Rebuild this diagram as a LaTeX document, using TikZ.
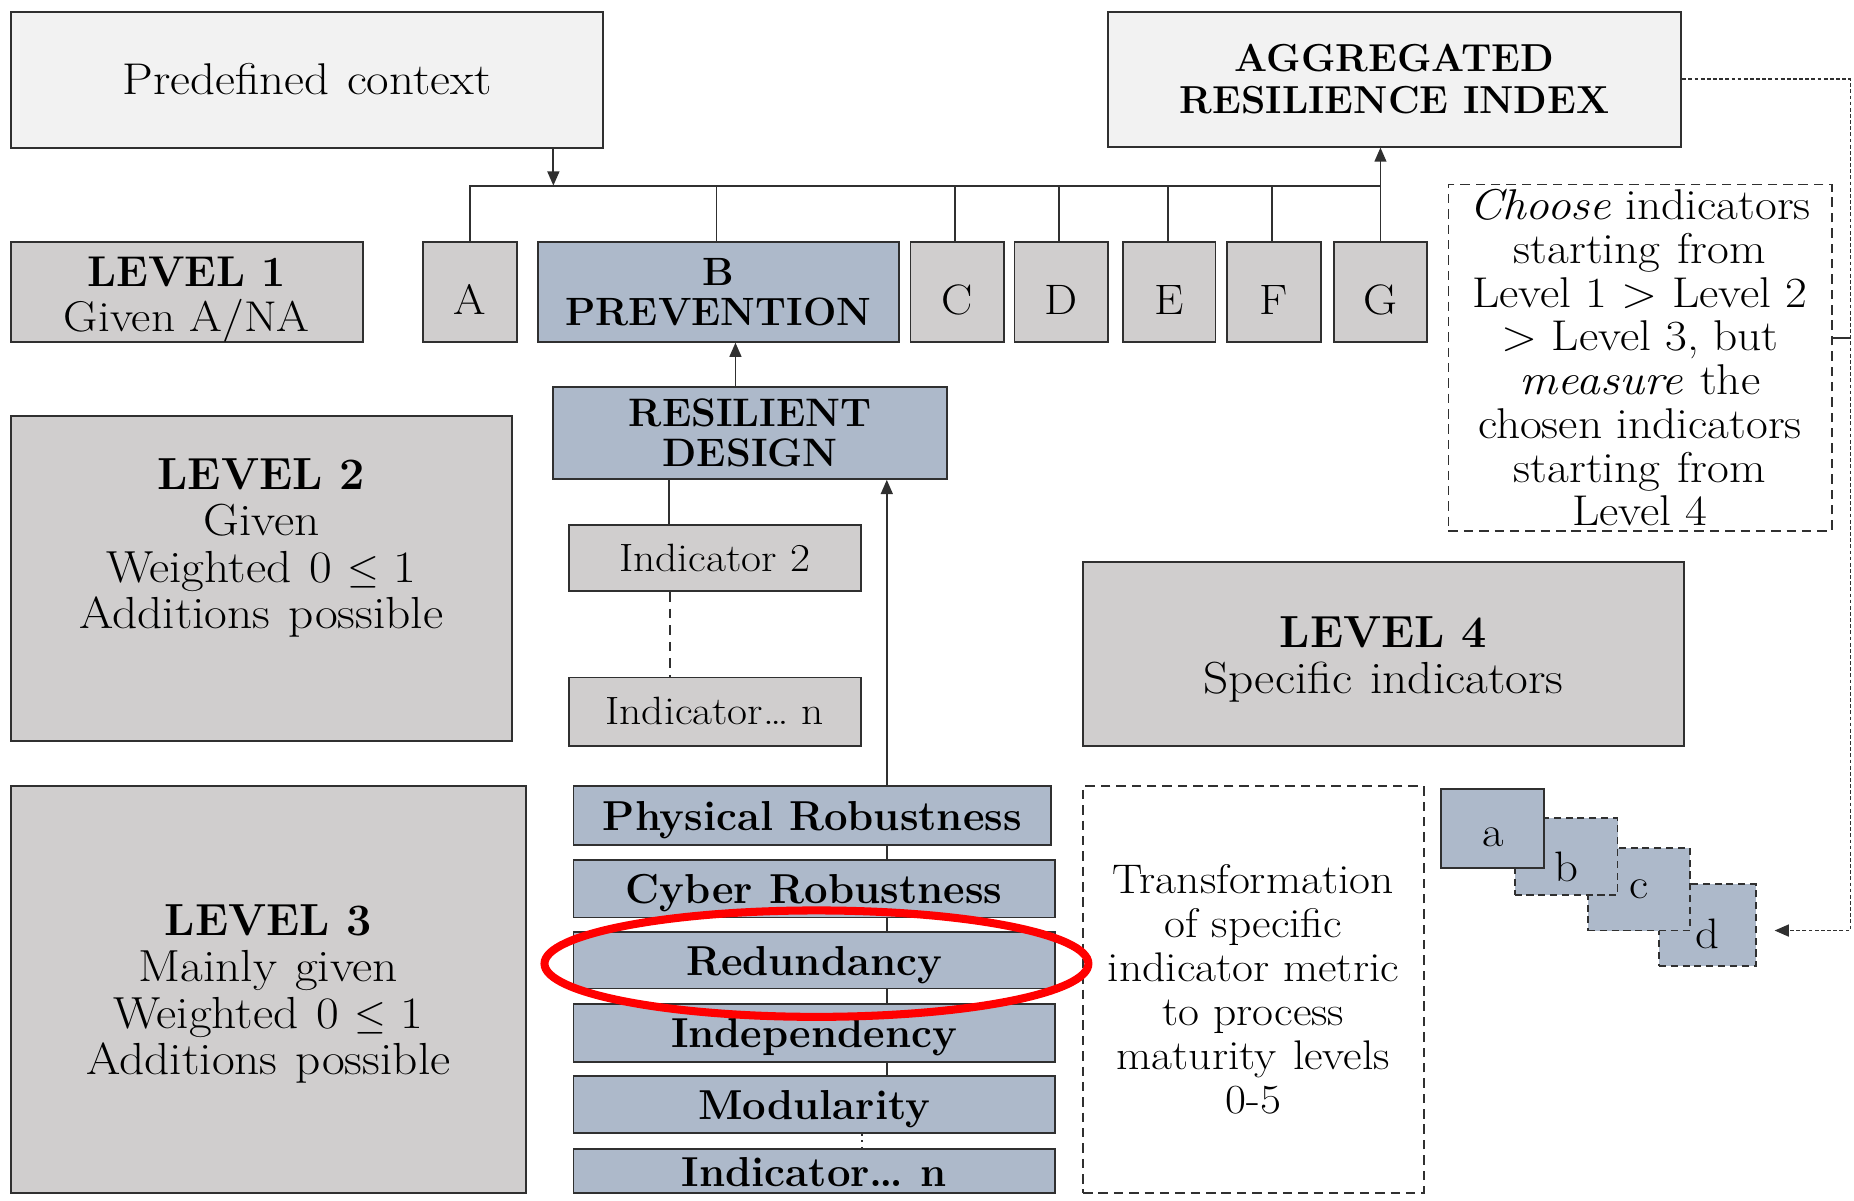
\documentclass[tikz,border=0pt]{standalone}
\usepackage{fontspec}
\setmainfont{Latin Modern Roman}[UprightFeatures={FakeStretch=1.1},ItalicFeatures={FakeStretch=1.1},BoldFeatures={FakeStretch=1.0}]
\usetikzlibrary{arrows.meta}
\definecolor{grayf}{HTML}{D0CECE}
\definecolor{bluef}{HTML}{ADB9CA}
\definecolor{lightf}{HTML}{F2F2F2}
\definecolor{edge}{HTML}{303030}
\newcommand\dsp{\hspace{0.4em}}
\newcommand\myfs[2]{\fontsize{#1}{#2}\selectfont}
\begin{document}
\begin{tikzpicture}[x=0.5pt,y=-0.5pt,
  box/.style={draw=edge,line width=0.8pt,inner sep=0pt,align=center},
  graybox/.style={box,fill=grayf},
  bluebox/.style={box,fill=bluef},
  lightbox/.style={box,fill=lightf},
  dbox/.style={box,dashed,dash pattern=on 4pt off 2.5pt},
  sqbox/.style={bluebox,dashed,dash pattern=on 3pt off 2pt},
  mlab/.style={align=center,inner sep=0pt},
  l3/.style={bluebox,minimum width=203.5pt,text height=12.75pt,text depth=0pt,font=\myfs{17.7}{20}\bfseries},
  conn/.style={draw=edge,line width=0.8pt},
  arr/.style={conn,-{Triangle[length=6pt,width=5pt]}},
  dotl/.style={conn,dash pattern=on 1.6pt off 1pt},
]
\useasboundingbox (0,0) rectangle (1568,1015);

% top row
\node[lightbox,minimum width=250.5pt,minimum height=57.5pt,text height=12.5pt,text depth=0pt,font=\myfs{18.8}{19}] (pre) at (259.5,67.5) {Predefined\dsp context};
\node[lightbox,minimum width=242.5pt,minimum height=57pt,font=\myfs{16.5}{17.5}\bfseries] (agg) at (1179.5,67) {AGGREGATED\\RESILIENCE INDEX};

% level 1 row
\node[graybox,minimum width=149pt,minimum height=42pt,
  label={[mlab,yshift=-3pt,font=\myfs{18.2}{19}]center:{\textbf{LEVEL 1}\\Given A/NA}}] (lv1) at (158,247) {};
\foreach \n/\x/\w in {A/397.5/39.5,C/809.5/39.5,D/897.5/39.5,E/989/39,F/1077.5/39.5,G/1167.5/39.5}{
  \node[graybox,minimum width=\w pt,minimum height=42pt,text height=19.3pt,text depth=0pt,font=\myfs{18}{19}] (\n) at (\x,247) {\n};
}
\node[bluebox,minimum width=152.5pt,minimum height=42pt,font=\myfs{16.7}{16.8}\bfseries] (B) at (607.5,247) {B\\PREVENTION};

% level 2
\node[graybox,minimum width=212pt,minimum height=137.5pt,
  label={[mlab,yshift=13pt,font=\myfs{19}{19.7}]center:{\textbf{LEVEL 2}\\Given\\Weighted\dsp 0 $\le$ 1\\Additions\dsp possible}}] (lv2) at (221,489.5) {};
\node[bluebox,minimum width=166.5pt,minimum height=39pt,font=\myfs{16.8}{17}\bfseries] (rd) at (634.5,366) {RESILIENT\\DESIGN};
\node[graybox,minimum width=123.5pt,minimum height=28pt,text height=11pt,text depth=0pt,font=\myfs{16.7}{18}] (ind2) at (604.5,472) {Indicator 2};
\node[graybox,minimum width=123.5pt,minimum height=29pt,text height=11pt,text depth=0pt,font=\myfs{16.7}{18}] (indn) at (604.5,602) {Indicator… n};

% level 3
\node[graybox,minimum width=218pt,minimum height=172pt,
  label={[mlab,yshift=-1.75pt,font=\myfs{19}{19.6}]center:{\textbf{LEVEL 3}\\Mainly\dsp given\\Weighted\dsp 0 $\le$ 1\\Additions\dsp possible}}] (lv3) at (227,837) {};
\node[l3,minimum width=202pt,minimum height=25pt] (phys) at (687,690) {Physical Robustness};
\node[l3,minimum height=24.5pt] (cyber) at (688.5,751.5) {Cyber\dsp Robustness};
\node[l3,minimum height=24pt] (red) at (688.5,812) {Redundancy};
\node[l3,minimum height=24.5pt] (indep) at (688.5,873.5) {Independency};
\node[l3,minimum height=24pt] (mod) at (688.5,934) {Modularity};
\node[l3,minimum height=18.5pt] (indn3) at (688.5,990.5) {Indicator…\dsp n};

% level 4 and side boxes
\node[graybox,minimum width=254pt,minimum height=78pt,
  label={[mlab,yshift=-2.5pt,font=\myfs{19}{19.3}]center:{\textbf{LEVEL 4}\\Specific\dsp indicators}}] (lv4) at (1170,553) {};
\node[dbox,minimum width=162pt,minimum height=146.5pt,font=\myfs{18.2}{18.5}] (choose) at (1387,302.5) {\textit{Choose} indicators\\starting\dsp from\\Level 1 > Level 2\\> Level 3, but\\\textit{measure}\dsp the\\chosen indicators\\starting\dsp from\\Level 4};
\node[dbox,minimum width=144pt,minimum height=172pt,font=\myfs{17.5}{18.6}] (trans) at (1060,837) {Transformation\\of specific\\indicator metric\\to process\\maturity\dsp levels\\0-5};

% a b c d squares
\node[sqbox,minimum width=41pt,minimum height=34.5pt,font=\myfs{18}{19}] (d) at (1444,782.5) {\raisebox{-10pt}[0pt][0pt]{d}};
\node[sqbox,minimum width=43pt,minimum height=35pt,font=\myfs{18}{19}] (c) at (1386,752) {\raisebox{-3.9pt}[0pt][0pt]{c}};
\node[sqbox,minimum width=43.5pt,minimum height=32.5pt,font=\myfs{18}{19}] (b) at (1324.5,724.5) {\raisebox{-10.5pt}[0pt][0pt]{b}};
\node[bluebox,minimum width=43.5pt,minimum height=33.5pt,font=\myfs{18}{19}] (a) at (1262.5,700.5) {\raisebox{-7.6pt}[0pt][0pt]{a}};

% connectors: top bus
\coordinate (bus) at (0,157);
\coordinate (preOut) at (468,125);
\draw[conn] (A.north) |- (G.north |- bus);
\foreach \n in {B,C,D,E,F} {\draw[conn] ([xshift=-0.75pt]\n.north) -- ([xshift=-0.75pt]\n.north |- bus);}
\draw[arr] (preOut) -- (preOut |- bus);
\draw[arr] (G.north) -- (G.north |- agg.south);

% resilient design
\draw[arr] ([xshift=-6.25pt]rd.north) -- ([xshift=-6.25pt]rd.north |- B.south);
\draw[conn] ([xshift=-19.25pt]ind2.north) -- ([xshift=-19.25pt]ind2.north |- rd.south);
\draw[conn,dashed,dash pattern=on 4pt off 3pt] ([xshift=-19pt]ind2.south) -- ([xshift=-19pt]indn.north);
\draw[arr] ([xshift=31.5pt]phys.north) -- ([xshift=31.5pt]phys.north |- rd.south);

% level 3 chain
\draw[conn] ([xshift=31.5pt]phys.south) -- ([xshift=31.5pt]phys.south |- cyber.north);
\draw[conn] ([xshift=30.75pt]cyber.south) -- ([xshift=30.75pt]cyber.south |- red.north);
\draw[conn] ([xshift=30.75pt]red.south) -- ([xshift=30.75pt]red.south |- indep.north);
\draw[conn] ([xshift=30.75pt]indep.south) -- ([xshift=30.75pt]indep.south |- mod.north);
\draw[conn,dotted] ([xshift=20.25pt]mod.south) -- ([xshift=20.25pt]mod.south |- indn3.north);

% right dotted loop
\coordinate (rr) at (1565,67);
\draw[dotl,-{Triangle[length=6pt,width=5pt]}] (agg.east) -- (rr) |- ([xshift=7.5pt,yshift=-2.25pt]d.east);
\draw[conn] ([yshift=8.5pt]choose.east) -- ([yshift=8.5pt]choose.east -| rr);

% red highlight
\draw[red,line width=3.4pt] (690.5,815) ellipse [x radius=115pt, y radius=22.5pt];
\end{tikzpicture}
\end{document}
